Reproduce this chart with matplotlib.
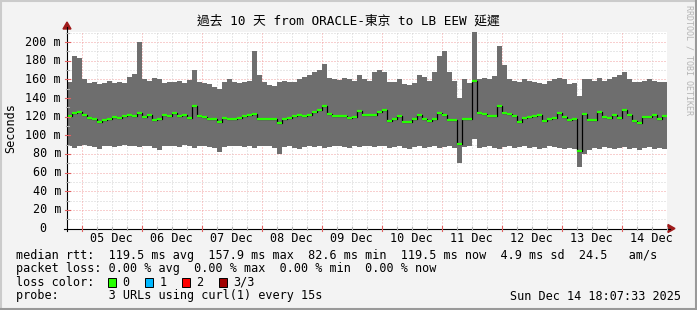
import matplotlib
matplotlib.use('Agg')
import matplotlib.pyplot as plt
from matplotlib.patches import Rectangle, Polygon
from matplotlib.lines import Line2D
import numpy as np

# ---------------- data (ms), 120 columns of 2 h each, Dec 4 18:07 -> Dec 14 18:07
median = [121,124,125,122,119,117,114,116,118,120,119,121,122,121,124,120,122,116,118,122,
          121,124,121,122,119,131,121,120,118,118,114,119,118,118,119,121,122,123,118,118,
          117,118,113,118,119,121,122,121,122,125,127,131,123,121,121,121,119,120,126,122,
          122,122,125,127,115,117,121,114,114,117,122,117,115,118,124,122,116,116,91,118,
          118,158,124,123,121,121,131,124,123,121,114,119,120,121,122,115,118,119,124,120,
          116,117,83,123,116,116,125,120,119,122,119,127,122,115,113,120,120,122,117,121]
smoke_top = [157,185,183,160,156,157,155,156,158,156,157,156,163,166,200,160,158,162,160,156,
             157,157,158,156,159,170,157,156,155,152,150,157,160,157,156,157,158,190,165,157,
             154,153,157,158,157,157,160,163,165,168,170,176,162,160,159,161,160,158,165,160,
             158,168,170,168,157,157,160,155,154,156,165,163,158,168,185,190,168,158,140,160,
             156,212,160,162,160,164,196,175,160,158,157,160,158,157,156,155,158,160,162,160,
             155,156,142,160,160,158,162,158,160,163,165,168,160,157,157,158,160,158,157,157]
smoke_bottom = [88,86,89,90,88,87,85,88,89,87,88,90,89,88,87,89,88,86,84,88,
                89,88,87,90,88,86,89,88,87,86,82,87,88,89,88,87,88,86,88,89,
                88,86,80,87,88,86,85,87,88,87,88,86,87,89,88,87,86,88,87,88,
                88,87,89,88,86,87,88,86,85,87,88,86,87,88,86,87,88,86,70,87,
                88,96,86,87,88,86,85,87,88,86,87,88,86,87,85,86,88,87,86,85,
                86,85,66,80,84,86,85,87,86,85,86,87,85,86,84,86,87,85,86,85]
day_labels = ["05 Dec", "06 Dec", "07 Dec", "08 Dec", "09 Dec",
              "10 Dec", "11 Dec", "12 Dec", "13 Dec", "14 Dec"]
y_ticks = [0, 20, 40, 60, 80, 100, 120, 140, 160, 180, 200]
title = "過去 10 天 from ORACLE-東京 to LB EEW 延遲"
median_stats = "median rtt:  119.5 ms avg  157.9 ms max  82.6 ms min  119.5 ms now  4.9 ms sd  24.5   am/s"
loss_stats = "packet loss: 0.00 % avg  0.00 % max  0.00 % min  0.00 % now"
loss_labels = ["0", "1", "2", "3/3"]
loss_colors = ["#26ff00", "#00b8ff", "#ff0000", "#a00000"]
probe_text = "probe:       3 URLs using curl(1) every 15s"
stamp = "Sun Dec 14 18:07:33 2025"

# ---------------- layout
W, H = 697, 310
FONT = ['DejaVu Sans Mono', 'Noto Sans CJK TC']
plt.rcParams['font.family'] = FONT

def P(x, y):
    return (x / W, 1 - y / H)

fig = plt.figure(figsize=(W / 100, H / 100), dpi=100, facecolor='#f3f3f3')
x0, x1, ybot, ytop = 67, 667, 228.5, 31.5
ax = fig.add_axes([x0 / W, (H - ybot) / H, (x1 - x0) / W, (ybot - ytop) / H])
ax.set_facecolor('white')

t_start = (18 + 7 / 60 + 33 / 3600) / 24.0   # days since Dec 4 00:00
n = len(median)
step = 10.0 / n
t = t_start + (np.arange(n) + 0.5) * step
ax.set_xlim(t_start, t_start + 10)
ymax = (ybot - ytop) / 0.932
ax.set_ylim(0, ymax)

# grid
minor_col, major_col = '#d2d2d2', '#f2a0a0'
dots = (0, (1, 2))
for v in range(10, int(ymax) + 1, 10):
    ax.axhline(v, color=major_col if v % 20 == 0 else minor_col, lw=0.72, ls=dots, zorder=0.5)
k0 = int(np.ceil(t_start * 4))
for k in range(k0, int((t_start + 10) * 4) + 1):
    tv = k / 4
    ax.axvline(tv, color=major_col if k % 4 == 0 else minor_col, lw=0.72, ls=dots, zorder=0.5)

# smoke and median
top = np.array(smoke_top, float)
bot = np.array(smoke_bottom, float)
med = np.array(median, float)
ax.bar(t, top - bot, bottom=bot, width=step, color='#6e6e6e', linewidth=0, zorder=2)
ax.step(t, med, where='mid', color='black', lw=0.9, zorder=3)
ax.hlines(med, t - step / 2, t + step / 2, colors='#26ff00', lw=1.6, zorder=4)

for s in ax.spines.values():
    s.set_visible(False)
ax.set_xticks([])
ax.set_yticks([])

# axis lines and arrows
fig.add_artist(Line2D([P(64, ybot)[0], P(670, ybot)[0]], [P(64, ybot)[1]] * 2, color='black', lw=0.8))
fig.add_artist(Line2D([P(x0, 0)[0]] * 2, [P(0, 231)[1], P(0, 27)[1]], color='black', lw=0.8))
fig.add_artist(Polygon([P(668, ybot - 4), P(668, ybot + 4), P(675, ybot)], closed=True,
                       color='#9e1a1a', transform=fig.transFigure))
fig.add_artist(Polygon([P(x0 - 4, 29), P(x0 + 4, 29), P(x0, 22)], closed=True,
                       color='#9e1a1a', transform=fig.transFigure))

# tick marks on axes
for k in range(k0, int((t_start + 10) * 4) + 1):
    px = x0 + (k / 4 - t_start) / 10 * 600
    major = k % 4 == 0
    L = 2.5 if major else 1.5
    fig.add_artist(Line2D([P(px, 0)[0]] * 2, [P(0, ybot - L)[1], P(0, ybot + L)[1]],
                          color='#e06060' if major else '#b0b0b0', lw=0.8))
for v in range(10, int(ymax) + 1, 10):
    py = ybot - v * 0.932
    major = v % 20 == 0
    L = 2.5 if major else 1.5
    fig.add_artist(Line2D([P(x0 - L, 0)[0], P(x0 + L, 0)[0]], [P(0, py)[1]] * 2,
                          color='#e06060' if major else '#b0b0b0', lw=0.8))

# texts
FS = 8.5
fig.text(*P(348, 21), title, ha='center', va='center', fontsize=9.2, family=FONT, color='black')
for v in y_ticks:
    py = ybot - v * 0.932
    if v == 0:
        fig.text(*P(61 - 2 * 7.08, py), "0", ha='right', va='center', fontsize=FS, family=FONT)
    else:
        fig.text(*P(61, py), f"{v} m", ha='right', va='center', fontsize=FS, family=FONT)
fig.text(*P(11, 128), "Seconds", rotation=90, ha='center', va='center', fontsize=FS, family=FONT)
for i, lab in enumerate(day_labels):
    tv = i + 1.5
    px = x0 + (tv - t_start) / 10 * 600
    fig.text(*P(px, 238), lab, ha='center', va='center', fontsize=FS, family=FONT)

fig.text(*P(16, 255), median_stats, ha='left', va='center', fontsize=FS, family=FONT)
fig.text(*P(16, 268.5), loss_stats, ha='left', va='center', fontsize=FS, family=FONT)
fig.text(*P(16, 282), "loss color:", ha='left', va='center', fontsize=FS, family=FONT)
bx = [108, 145, 182, 219]
for xb, lab, col in zip(bx, loss_labels, loss_colors):
    fig.add_artist(Rectangle(P(xb, 286.5), 8 / W, 9 / H, facecolor=col, edgecolor='black',
                             lw=0.7, transform=fig.transFigure))
    fig.text(*P(xb + 14.5, 282), lab, ha='left', va='center', fontsize=FS, family=FONT)
fig.text(*P(16, 296), probe_text, ha='left', va='center', fontsize=FS, family=FONT)
fig.text(*P(681, 296), stamp, ha='right', va='center', fontsize=FS, family=FONT)

fig.text(*P(689, 5), "RRDTOOL / TOBI OETIKER", rotation=270, ha='center', va='top',
         fontsize=6.0, family=FONT, color='#b4b4b4')

# frame
fig.add_artist(Line2D([0, 1], [1 - 0.5 / H] * 2, color='#cbcbcb', lw=1.5))
fig.add_artist(Line2D([0.5 / W] * 2, [0, 1], color='#cbcbcb', lw=1.5))
fig.add_artist(Line2D([0, 1], [1 / H] * 2, color='#999999', lw=1.5))
fig.add_artist(Line2D([1 - 1 / W] * 2, [0, 1], color='#999999', lw=1.5))

fig.savefig('out.png', dpi=100, facecolor=fig.get_facecolor())
